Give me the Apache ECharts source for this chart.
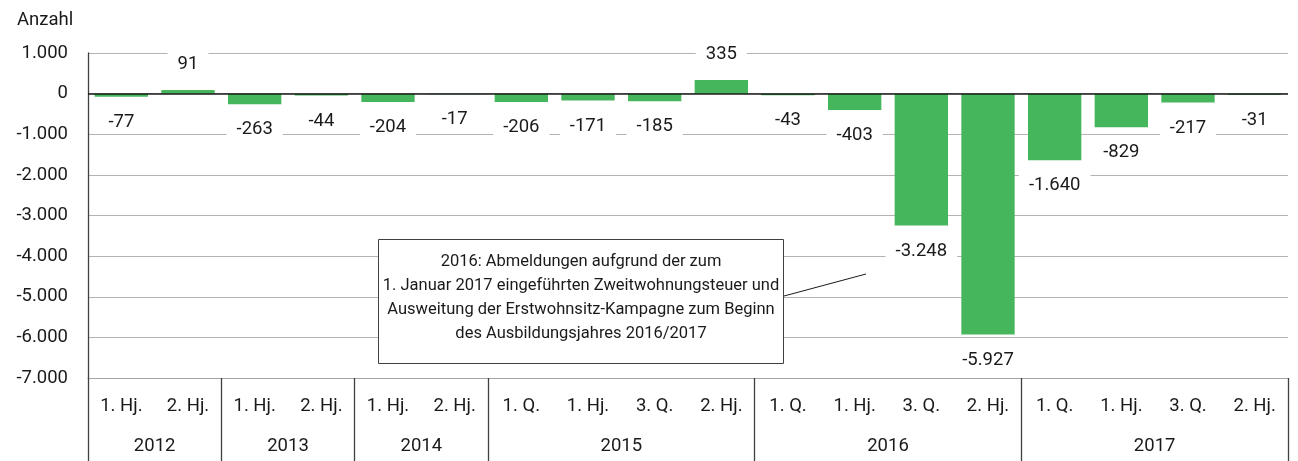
<!DOCTYPE html>
<html>
<head>
<meta charset="utf-8">
<script src="https://cdn.jsdelivr.net/npm/echarts@6/dist/echarts.min.js"></script>
<style>
html,body{margin:0;padding:0;background:#fff;}
#chart{width:1298px;height:461px;}
</style>
</head>
<body>
<div id="chart"></div>
<script>
// ---- data ----
const periods = ['1. Hj.','2. Hj.','1. Hj.','2. Hj.','1. Hj.','2. Hj.','1. Q.','1. Hj.','3. Q.','2. Hj.','1. Q.','1. Hj.','3. Q.','2. Hj.','1. Q.','1. Hj.','3. Q.','2. Hj.'];
const years = ['2012','2013','2014','2015','2016','2017'];
const yearCounts = [2,2,2,4,4,4];
const values = [-77, 91, -263, -44, -204, -17, -206, -171, -185, 335, -43, -403, -3248, -5927, -1640, -829, -217, -31];
const yTicks = [1000, 0, -1000, -2000, -3000, -4000, -5000, -6000, -7000];
const yName = 'Anzahl';
const noteLines = ['2016: Abmeldungen aufgrund der zum','1. Januar 2017 eingeführten Zweitwohnungsteuer und','Ausweitung der Erstwohnsitz-Kampagne zum Beginn','des Ausbildungsjahres 2016/2017'];

// ---- helpers ----
function fmt(v){
  const s = String(Math.abs(v)).replace(/\B(?=(\d{3})+(?!\d))/g, '.');
  return (v < 0 ? '-' : '') + s;
}
const catKeys = periods.map((p, i) => i + '|' + p);
const boundaries = [];
const yearCenters = {};
let acc = 0;
yearCounts.forEach((c, i) => { boundaries.push(acc); yearCenters[acc + c / 2] = years[i]; acc += c; });

const FONT = 'Roboto';
const FS = 18.5;
const TXT = '#1a1a1a';

const chart = echarts.init(document.getElementById('chart'), null, {renderer: 'canvas'});
const option = {
  animation: false,
  backgroundColor: '#ffffff',
  textStyle: {fontFamily: FONT},
  title: {text: yName, left: 12, top: 6, textStyle: {fontFamily: FONT, fontSize: FS, fontWeight: 'normal', color: TXT}},
  grid: {left: 88, right: 10, top: 53, bottom: 83, containLabel: false},
  xAxis: [{
    type: 'category',
    data: catKeys,
    position: 'bottom',
    axisLine: {show: true, onZero: false, lineStyle: {color: '#a6a6a6', width: 1}},
    axisTick: {show: true, length: 84, interval: (idx) => boundaries.indexOf(idx) >= 0, lineStyle: {color: '#404040', width: 1.3}},
    axisLabel: {interval: 0, margin: 19, fontFamily: FONT, fontSize: FS, color: TXT, formatter: (v) => v.split('|')[1]},
    splitLine: {show: false}
  }, {
    type: 'value',
    min: 0, max: periods.length, interval: 1,
    position: 'bottom',
    axisLine: {show: false}, axisTick: {show: false}, splitLine: {show: false},
    axisLabel: {margin: 59, fontFamily: FONT, fontSize: FS, color: TXT, showMinLabel: true, showMaxLabel: true,
      formatter: (v) => yearCenters[v] || ''}
  }],
  yAxis: {
    type: 'value',
    min: yTicks[yTicks.length - 1], max: yTicks[0], interval: 1000,
    axisLine: {show: true, lineStyle: {color: '#404040', width: 1.3}},
    axisTick: {show: false},
    splitLine: {show: true, lineStyle: {color: '#b3b3b3', width: 1}},
    axisLabel: {margin: 20, fontFamily: FONT, fontSize: FS, color: TXT, formatter: fmt}
  },
  series: [{
    type: 'bar',
    xAxisIndex: 0,
    barWidth: '80%',
    itemStyle: {color: '#46b65c'},
    data: values.map(v => ({value: v, label: {position: v >= 0 ? 'top' : 'bottom'}})),
    label: {
      show: true, distance: 14, fontFamily: FONT, fontSize: FS, color: TXT,
      backgroundColor: '#ffffff', padding: [2, 10],
      formatter: (p) => fmt(p.value)
    },
    markLine: {
      silent: true, symbol: ['none', 'none'], label: {show: false},
      lineStyle: {color: '#1a1a1a', width: 1.5, type: 'solid'},
      data: [{yAxis: 0}]
    }
  }],
  graphic: [
    {type: 'line', shape: {x1: 784, y1: 296, x2: 866, y2: 274}, style: {stroke: '#1a1a1a', lineWidth: 1}, z: 100},
    {type: 'rect', shape: {x: 378.5, y: 239.5, width: 405, height: 124}, style: {fill: '#ffffff', stroke: '#404040', lineWidth: 1}, z: 100},
    {type: 'text', x: 581, y: 250, z: 101, style: {text: noteLines.join('\n'), fontFamily: FONT, fontSize: 16.5, lineHeight: 24, fill: TXT, align: 'center', verticalAlign: 'top'}}
  ]
};
chart.setOption(option);
</script>
</body>
</html>
